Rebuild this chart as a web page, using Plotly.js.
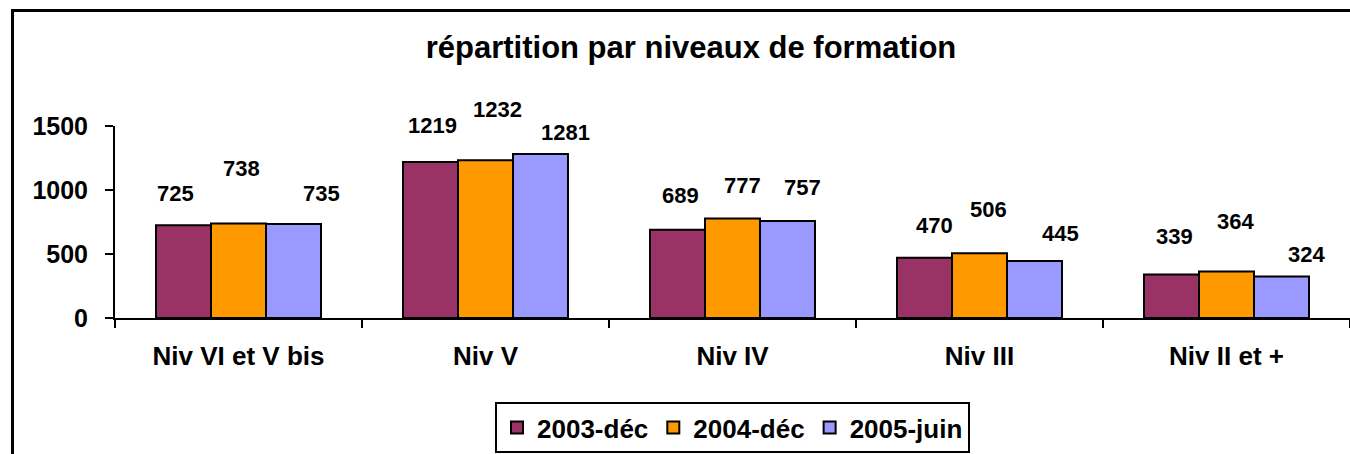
<!DOCTYPE html>
<html>
<head>
<meta charset="utf-8">
<script src="https://cdn.plot.ly/plotly-3.0.1.min.js"></script>
<style>
  html, body { margin: 0; padding: 0; background: #fff; overflow: hidden; }
  #chart { position: absolute; left: 0; top: 0; width: 1350px; height: 454px; }
  #frame { position: absolute; left: 11px; top: 9px; width: 1400px; height: 500px;
           border-left: 3px solid #000; border-top: 3px solid #000; pointer-events: none; }
</style>
</head>
<body>
<div id="chart"></div>
<div id="frame"></div>
<script>
// ---- data ----
const categories = ["Niv VI et V bis", "Niv V", "Niv IV", "Niv III", "Niv II et +"];
const seriesNames = ["2003-déc", "2004-déc", "2005-juin"];
const values2003 = [725, 1219, 689, 470, 339];
const values2004 = [738, 1232, 777, 506, 364];
const values2005 = [735, 1281, 757, 445, 324];
const yTickValues = [0, 500, 1000, 1500];

// ---- styling ----
const colors = ["#993366", "#FF9900", "#9999FF"];
// manual label offsets (pixels) relative to bar centre / bar top, as placed in the original
const labelShiftX = [[-8, 2, 3, 10, 3], [3, 12, 10, 9, 9], [28, 25, 15, 26, 25]];
const labelShiftY = [[32, 36, 34, 32, 38], [55, 51, 33, 44, 50], [30, 22, 34, 28, 22]];

const FONT = "Liberation Sans, Arial, sans-serif";
const bargap = 0.332;
const allValues = [values2003, values2004, values2005];

const traces = allValues.map((vals, s) => ({
  type: "bar",
  name: seriesNames[s],
  x: categories,
  y: vals,
  marker: { color: colors[s], line: { color: "#000", width: 2 } },
  hoverinfo: "x+y+name"
}));

const barW = (1 - bargap) / 3;
const annotations = [];
allValues.forEach((vals, s) => {
  vals.forEach((v, i) => {
    annotations.push({
      x: i + (s - 1) * barW, xref: "x",
      y: v, yref: "y",
      text: String(v),
      showarrow: false,
      xanchor: "center", yanchor: "middle",
      xshift: labelShiftX[s][i],
      yshift: labelShiftY[s][i],
      font: { family: FONT, size: 22, color: "#000", weight: "bold" }
    });
  });
});

const layout = {
  width: 1350, height: 454,
  margin: { l: 115, r: 0, t: 126, b: 136, pad: 0 },
  paper_bgcolor: "#fff", plot_bgcolor: "#fff",
  barmode: "group", bargap: bargap, bargroupgap: 0,
  title: {
    text: "répartition par niveaux de formation",
    x: 691 / 1350, xref: "container", xanchor: "center",
    y: 1 - 47 / 454, yref: "container", yanchor: "middle",
    font: { family: FONT, size: 31, color: "#000", weight: "bold" }
  },
  xaxis: {
    type: "category",
    categoryarray: categories,
    showline: true, linecolor: "#000", linewidth: 2,
    ticks: "outside", ticklen: 8, tickwidth: 2, tickcolor: "#000",
    tickson: "boundaries",
    showgrid: false, zeroline: false,
    tickfont: { family: FONT, size: 26, color: "#000", weight: "bold" },
    ticklabelstandoff: 14
  },
  yaxis: {
    range: [0, 1500],
    tickvals: yTickValues,
    ticktext: yTickValues.map(String),
    showline: true, linecolor: "#000", linewidth: 2,
    ticks: "outside", ticklen: 8, tickwidth: 2, tickcolor: "#000",
    showgrid: false, zeroline: false,
    tickfont: { family: FONT, size: 25, color: "#000", weight: "bold" },
    ticklabelstandoff: 12
  },
  showlegend: true,
  legend: {
    orientation: "h",
    x: 0.5, xanchor: "center", xref: "paper",
    y: (318 - 402) / 192, yanchor: "top",
    bordercolor: "#000", borderwidth: 2, bgcolor: "#fff",
    font: { family: FONT, size: 26, color: "#000", weight: "bold" },
    traceorder: "normal", itemclick: false
  },
  annotations: annotations
};

Plotly.newPlot("chart", traces, layout, { displayModeBar: false, staticPlot: true });
</script>
</body>
</html>
